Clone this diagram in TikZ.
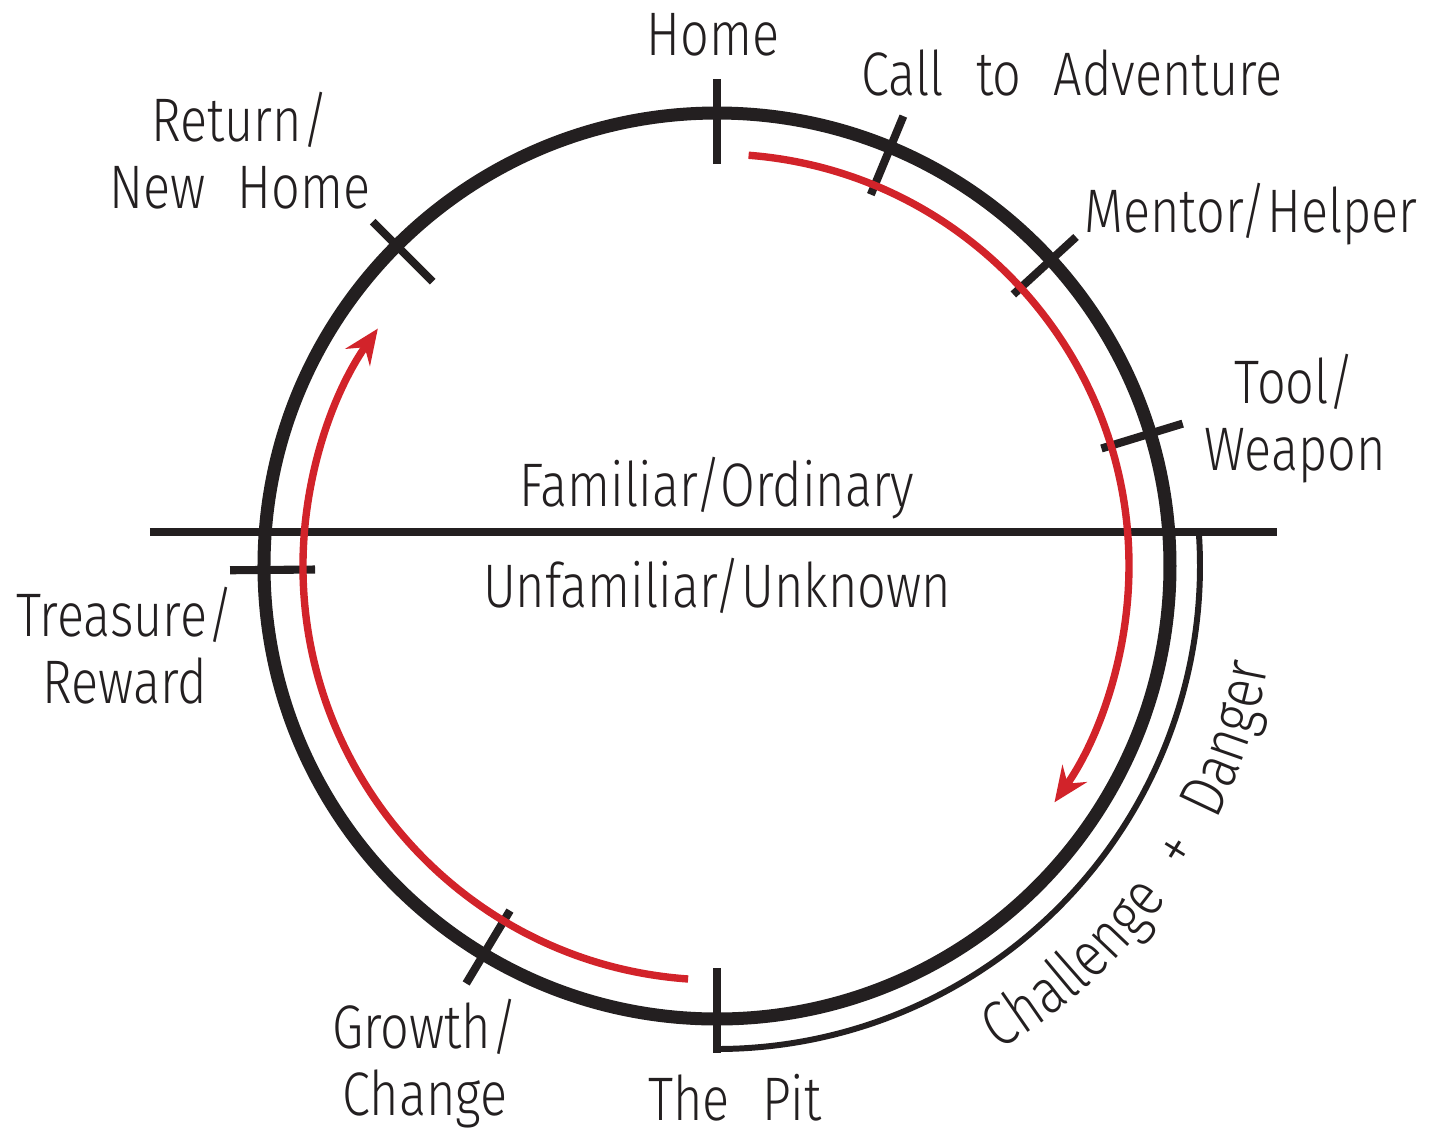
\documentclass[tikz,border=0pt]{standalone}
\usepackage{fontspec}
\setmainfont{Fira Sans Light}[FakeStretch=0.82,WordSpace=2.3]
\usetikzlibrary{positioning,arrows.meta,decorations.text}
\definecolor{inkblack}{HTML}{231F20}
\definecolor{pathred}{HTML}{D2232A}

\begin{document}
\begin{tikzpicture}[
  >=Stealth,
  every node/.style={font=\fontsize{17.5}{18.8}\selectfont, text=inkblack, inner sep=0pt},
  stage/.style={align=center, anchor=base},
  ring/.style={line width=3.7pt, inkblack},
  divider/.style={line width=2.3pt, inkblack},
  marker/.style={line width=2.3pt, inkblack},
  trial/.style={line width=1.7pt, inkblack},
  journey/.style={line width=2.1pt, pathred, -{Stealth[length=10pt, width=8.5pt, inset=3.5pt]}}
]
\useasboundingbox (-7.17,-5.70) rectangle (7.20,5.66);

% The cycle itself
\draw[ring] (0,0) circle (4.53);

% Border between the two worlds
\coordinate (divide) at (0,0.34);
\draw[divider] (-5.67,0.34) -- (5.60,0.34);
\node[above=0.12cm of divide] (familiar) {Familiar/Ordinary};
\node[below=0.25cm of divide] (unfamiliar) {Unfamiliar/Unknown};

% Outer arc for the hard part of the trip
\draw[trial] (4.05:4.83) arc[start angle=4.05, end angle=-90, radius=4.83];
\path[decorate, decoration={text along path, text align=center,
  text={|\fontsize{18}{19}\selectfont\color{inkblack}|Challenge + Danger}}]
  (-60:5.60) arc[start angle=-60, end angle=-10, radius=5.60];

% Stage marks
\foreach \a in {90,67.5,42.5,17,135,180.5,239,270}
  \draw[marker] (\a:4.02) -- (\a:4.87);

% Red path of the hero
\draw[journey] (85.6:4.12) arc[start angle=85.6, end angle=-35, radius=4.12];
\draw[journey] (266:4.14) arc[start angle=266, end angle=145, radius=4.14];

% Stage names (base = last line)
\node[stage] (home) at (-0.04,5.11) {Home};
\node[stage] (call) at (3.55,4.71) {Call to Adventure};
\node[stage] (mentor) at (5.34,3.34) {Mentor/Helper};
\node[stage] (tool) at (5.78,0.96) {Tool/\\Weapon};
\node[stage] (pit) at (0.18,-5.54) {The Pit};
\node[stage] (growth) at (-2.92,-5.49) {Growth/\\Change};
\node[stage] (treasure) at (-5.92,-1.37) {Treasure/\\Reward};
\node[stage] (return) at (-4.77,3.58) {Return/\\New Home};

\end{tikzpicture}
\end{document}
